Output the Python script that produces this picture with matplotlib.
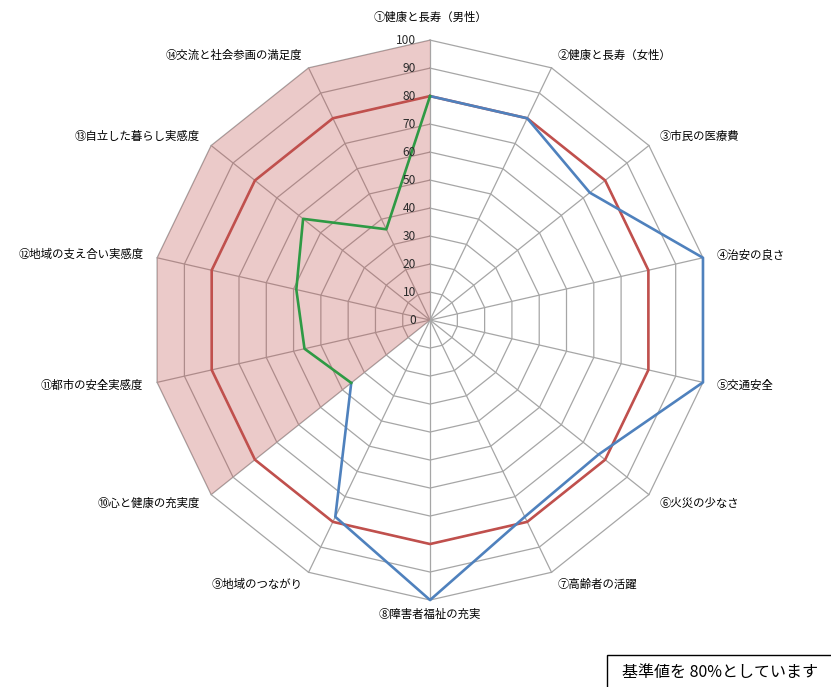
import numpy as np
import matplotlib
matplotlib.use("Agg")
import matplotlib.pyplot as plt
from matplotlib.patches import Rectangle

plt.rcParams['font.family'] = ['Noto Sans CJK JP', 'DejaVu Sans']

# 指標名 (①が真上、時計回り)
labels = [
    "①健康と長寿（男性）", "②健康と長寿（女性）", "③市民の医療費", "④治安の良さ",
    "⑤交通安全", "⑥火災の少なさ", "⑦高齢者の活躍", "⑧障害者福祉の充実",
    "⑨地域のつながり", "⑩心と健康の充実度", "⑪都市の安全実感度",
    "⑫地域の支え合い実感度", "⑬自立した暮らし実感度", "⑭交流と社会参画の満足度",
]

# 基準値 80
baseline = [80, 80, 80, 80, 80, 80, 80, 80, 80, 80, 80, 80, 80, 80]
# 客観指標 ①〜⑩ (青)
objective_idx = [0, 1, 2, 3, 4, 5, 6, 7, 8, 9]
objective = [80, 80, 73, 100, 100, 77, 78, 100, 78, 36]
# 主観指標 ⑩〜⑭, ① (緑)
subjective_idx = [9, 10, 11, 12, 13, 0]
subjective = [36, 46, 49, 58, 36, 80]
# 主観指標の領域 (塗りつぶし)
area = [100, 0, 0, 0, 0, 0, 0, 0, 0, 100, 100, 100, 100, 100]

r_ticks = [0, 10, 20, 30, 40, 50, 60, 70, 80, 90, 100]

n = len(labels)
angles = np.arange(n) * 2 * np.pi / n

fig = plt.figure(figsize=(8.31, 6.87), dpi=100)
ax = fig.add_axes([0.1805, 0.1266, 0.674, 0.815], projection='polar')
ax.set_theta_zero_location('N')
ax.set_theta_direction(-1)
ax.set_ylim(0, 100)
ax.set_xticks([])
ax.set_yticks([])
ax.grid(False)
ax.spines['polar'].set_visible(False)
ax.patch.set_visible(False)

grid_color = '#a6a6a6'
closed = np.append(angles, angles[0])

# 多角形の目盛り線
for lv in r_ticks[1:]:
    ax.plot(closed, [lv] * (n + 1), color=grid_color, lw=0.9, zorder=1, clip_on=False)
# 放射線
for a in angles:
    ax.plot([a, a], [0, 100], color=grid_color, lw=0.9, zorder=1, clip_on=False)

# 塗りつぶし領域
ax.fill(closed, area + area[:1], color='#c0504d', alpha=0.3, lw=0, zorder=2)

# 基準値 (赤)
ax.plot(closed, baseline + baseline[:1], color='#c0504d', lw=1.9, zorder=3, clip_on=False)
# 客観指標 (青)
ax.plot(angles[objective_idx], objective, color='#4f81bd', lw=1.9, zorder=4, clip_on=False)
# 主観指標 (緑)
ax.plot(angles[subjective_idx], subjective, color='#2e9a44', lw=1.9, zorder=4, clip_on=False)

# 目盛りラベル
for v in r_ticks:
    ax.annotate(str(v), xy=(0, v), xytext=(-10, 0), textcoords='offset points',
                ha='right', va='center', fontsize=8.6, color='#2b2b2b', zorder=5)

# 指標ラベル
for i, (a, lab) in enumerate(zip(angles, labels)):
    s = np.sin(a)
    if abs(s) < 1e-6:
        ha = 'center'
    elif s > 0:
        ha = 'left'
    else:
        ha = 'right'
    r = 108 if i == 0 else 105
    ax.text(a, r, lab, ha=ha, va='center', fontsize=8.2, color='black')

# 注記
fig.patches.append(Rectangle((607 / 831, -0.05), 0.4, (687 - 655) / 687 + 0.05,
                             transform=fig.transFigure, fill=False,
                             edgecolor='black', lw=1.0))
fig.text(622 / 831, 1 - 672 / 687, "基準値を 80%としています",
         ha='left', va='center', fontsize=11.5, color='black')

fig.savefig("out.png", dpi=100)
